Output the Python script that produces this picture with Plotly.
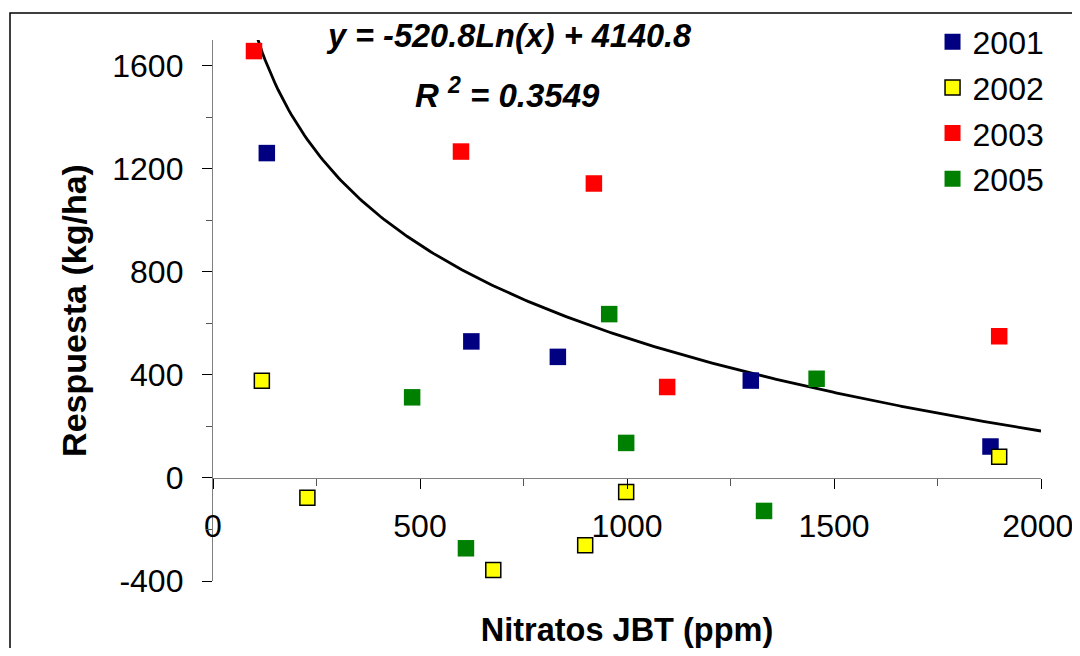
import numpy as np
import plotly.graph_objects as go

# ---- data ----
x_2001 = [130, 624, 833, 1299, 1878]
y_2001 = [1261, 530, 470, 378, 122]

x_2002 = [118, 228, 677, 899, 998, 1899]
y_2002 = [377, -77, -357, -261, -55, 82]

x_2003 = [99, 599, 920, 1097, 1899]
y_2003 = [1657, 1267, 1143, 353, 550]

x_2005 = [481, 611, 957, 998, 1331, 1458]
y_2005 = [313, -273, 636, 136, -128, 385]

# logarithmic trend line printed on the chart
trend_a = -520.8
trend_b = 4140.8
trend_r2 = 0.3549
trend_x = np.linspace(100, 2000, 300)
trend_y = trend_a * np.log(trend_x) + trend_b

x_ticks = [0, 500, 1000, 1500, 2000]
# last label nudged left (as in the reference) with a trailing thin space
x_ticktext = ["0", "500", "1000", "1500", "2000\u2009"]
y_ticks = [-400, 0, 400, 800, 1200, 1600]
y_ticktext = ["-400", "0", "400", "800", "1200", "1600"]

FONT = "Liberation Sans, Arial, sans-serif"

fig = go.Figure()

fig.add_trace(go.Scatter(x=trend_x, y=trend_y, mode="lines",
                         line=dict(color="black", width=2.8),
                         showlegend=False, hoverinfo="skip"))

series = [
    ("2001", x_2001, y_2001, "#000080", 0, None),
    ("2002", x_2002, y_2002, "#FFFF00", 1.5, "black"),
    ("2003", x_2003, y_2003, "#FF0000", 0, None),
    ("2005", x_2005, y_2005, "#008000", 0, None),
]
for name, xs, ys, col, lw, lc in series:
    fig.add_trace(go.Scatter(
        x=xs, y=ys, mode="markers", name=name, legendgroup=name,
        marker=dict(symbol="square", color=col,
                    size=15 if lw else 16.5,
                    line=dict(width=lw, color=lc if lc else col)),
        cliponaxis=False))

y0, y1 = -400, 1700
xpos = (0 - y0) / (y1 - y0)

fig.update_layout(
    width=1072, height=640,
    margin=dict(l=205, r=39, t=32, b=67, autoexpand=False),
    paper_bgcolor="white", plot_bgcolor="white",
    font=dict(family=FONT, size=32, color="black"),
    xaxis=dict(range=[0, 2000], tickvals=x_ticks, ticktext=x_ticktext,
               ticks="outside", ticklen=10,
               tickcolor="black", tickwidth=1.3, showline=True, linecolor="#808080",
               linewidth=1.3, showgrid=False, zeroline=False, automargin=False,
               anchor="free", position=xpos, ticklabelstandoff=9,
               minor=dict(dtick=250, tick0=0, ticks="outside", ticklen=7,
                          tickcolor="#555555", tickwidth=1.2, showgrid=False),
               title=dict(text="<b>Nitratos JBT (ppm)</b>", font=dict(size=32.5),
                          standoff=80)),
    yaxis=dict(range=[y0, y1], tickvals=y_ticks, ticktext=y_ticktext,
               ticks="outside", ticklen=10,
               tickcolor="black", tickwidth=1.3, showline=True, linecolor="#808080",
               linewidth=1.3, showgrid=False, zeroline=False, automargin=False,
               ticklabelstandoff=12,
               minor=dict(dtick=200, tick0=0, ticks="outside", ticklen=6,
                          tickcolor="#555555", tickwidth=1.2, showgrid=False),
               title=dict(text="<b>Respuesta (kg/ha)</b>", font=dict(size=34),
                          standoff=15)),
    legend=dict(x=0.869, y=1.047, xanchor="left", yanchor="top",
                font=dict(size=32), bgcolor="rgba(0,0,0,0)", tracegroupgap=1),
    showlegend=True,
)

fig.add_annotation(xref="paper", yref="paper", x=0.3575, y=1.007,
                   text=f"<b><i>y = {trend_a}Ln(x) + {trend_b}</i></b>",
                   showarrow=False, xanchor="center", yanchor="middle",
                   font=dict(size=32.5))
fig.add_annotation(xref="paper", yref="paper", x=0.3557, y=0.9017,
                   text=f"<b><i>R <sup>2</sup> = {trend_r2}</i></b>",
                   showarrow=False, xanchor="center", yanchor="middle",
                   font=dict(size=33))

# outer chart border (extends past right and bottom edges of the picture)
fig.add_shape(type="rect", xref="paper", yref="paper",
              x0=(10 - 213) / 828, x1=1.2, y0=-0.3, y1=(581 - 13) / 541,
              line=dict(color="black", width=1.5), layer="below")

fig.write_html("out.html")
